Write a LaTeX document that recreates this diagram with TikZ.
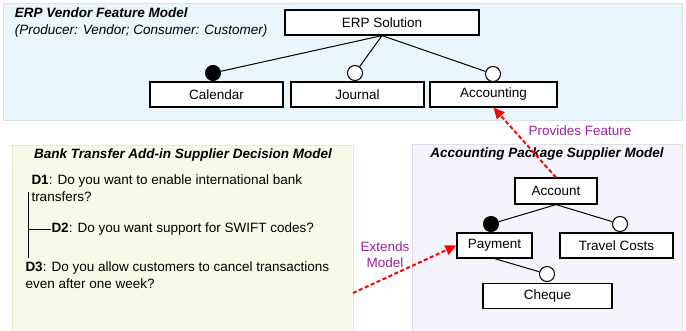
\documentclass[tikz,border=0pt]{standalone}
\usepackage{fontspec}
\setmainfont{Liberation Sans}
\usepackage{xcolor}
\usepackage{tikz}
\usetikzlibrary{arrows.meta}
\definecolor{erpback}{HTML}{EAF5FC}
\definecolor{erpline}{HTML}{D5E3EC}
\definecolor{bankback}{HTML}{F6FBE9}
\definecolor{bankline}{HTML}{E2E9D6}
\definecolor{acctback}{HTML}{F5F3FB}
\definecolor{acctline}{HTML}{E0DEEA}
\definecolor{relpurple}{HTML}{9E1F9E}

\begin{document}
\begin{tikzpicture}[x=1pt,y=-1pt,line width=1pt,font=\fontsize{13.5}{17.5}\selectfont,
    feature/.style={draw,line width=1.2pt,minimum height=25pt,inner sep=0pt},
    mand/.style={circle,draw,fill=black,minimum size=15pt,inner sep=0pt},
    opt/.style={circle,draw,fill=white,minimum size=15pt,inner sep=0pt},
    relation/.style={red,line width=2pt,dash pattern=on 4pt off 2.5pt,-{Triangle[length=11pt,width=10pt]}},
    rellabel/.style={text=relpurple,align=center},
    paneltitle/.style={font=\fontsize{13.5}{17.5}\selectfont\bfseries\itshape}]
    \clip (0,0) rectangle (686,330);

    \filldraw[fill=erpback,draw=erpline] (3,3) rectangle (682,120);
    \filldraw[fill=bankback,draw=bankline] (12,145) rectangle (353,340);
    \filldraw[fill=acctback,draw=acctline] (412,144) rectangle (682,340);

    \node[paneltitle,anchor=west] (erptitle) at (11,13) {ERP Vendor Feature Model};
    \node[anchor=west,font=\fontsize{13.5}{17.5}\selectfont\itshape] (erpsub) at (11,31) {(Producer: Vendor; Consumer: Customer)};
    \node[feature,fill=white,minimum width=194pt] (erp) at (382,22.5) {ERP Solution};
    \node[feature,fill=white,minimum width=133pt] (calendar) at (216.5,94.5) {Calendar};
    \node[feature,fill=white,minimum width=133pt] (journal) at (357.5,94.5) {Journal};
    \node[feature,fill=white,minimum width=127pt] (accounting) at (493.5,94.5) {Accounting};
    \node[mand] (ccal) at (213,73) {};
    \node[opt] (cjou) at (355,73) {};
    \node[opt] (cacc) at (493,74) {};
    \draw (erp.south) -- (ccal)
          (erp.south) -- (cjou)
          (erp.south) -- (cacc);

    \node[paneltitle] (banktitle) at (183,155) {Bank Transfer Add-in Supplier Decision Model};
    \node[anchor=north west,align=left,inner sep=0pt] (d1) at (31,174) {\textbf{D1}: Do you want to enable international bank\\transfers?};
    \node[anchor=west,inner sep=0pt] (d2) at (51,229) {\textbf{D2}: Do you want support for SWIFT codes?};
    \node[anchor=north west,align=left,inner sep=0pt] (d3) at (25,261) {\textbf{D3}: Do you allow customers to cancel transactions\\even after one week?};
    \coordinate (dtop) at (28,192);
    \coordinate (dbot) at (28,258);
    \coordinate (djoin) at (28,229);
    \draw (dtop) -- (dbot);
    \draw (djoin) -- (d2.west);

    \node[paneltitle] (accttitle) at (547,154) {Accounting Package Supplier Model};
    \node[feature,fill=white,minimum width=82pt,minimum height=26pt] (account) at (556,191) {Account};
    \node[feature,fill=white,minimum width=75pt] (payment) at (494.5,245.5) {Payment};
    \node[feature,fill=white,minimum width=113pt] (travel) at (616.5,245.5) {Travel Costs};
    \node[feature,fill=white,minimum width=129pt] (cheque) at (547.5,296) {Cheque};
    \node[mand] (cpay) at (491,224) {};
    \node[opt] (ctra) at (620,224) {};
    \node[opt] (cche) at (547,274) {};
    \draw (account.south) -- (cpay)
          (account.south) -- (ctra)
          (payment.south) -- (cche);

    \coordinate (bankedge) at (353,293);
    \draw[relation] (account.north) -- (accounting.south);
    \draw[relation] (bankedge) -- (payment.west);
    \node[rellabel] (provides) at (580,131) {Provides Feature};
    \node[rellabel,font=\fontsize{13.5}{16}\selectfont] (extends) at (385,255) {Extends\\Model};
\end{tikzpicture}
\end{document}
